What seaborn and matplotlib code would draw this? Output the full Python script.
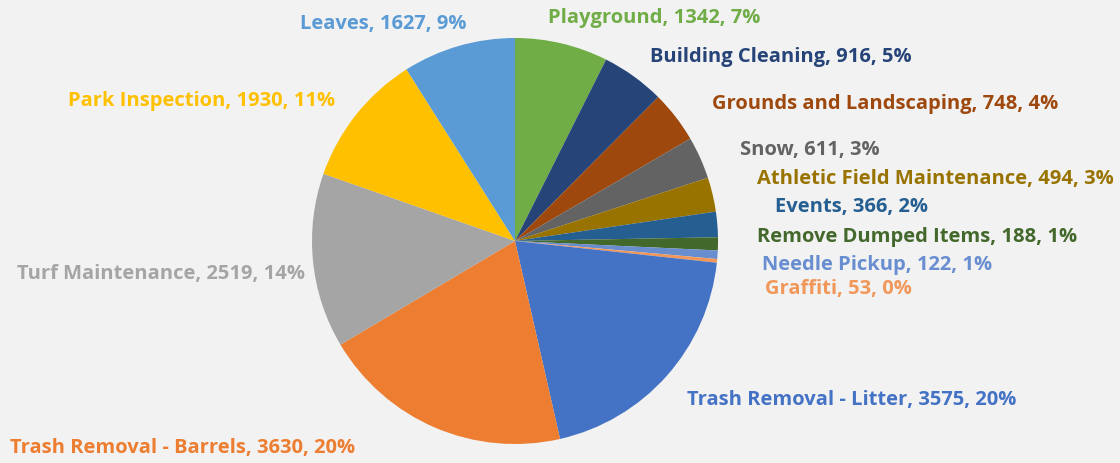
import matplotlib
matplotlib.use("Agg")
import matplotlib.pyplot as plt
import seaborn as sns

# ---- data ----
categories = [
    "Playground", "Building Cleaning", "Grounds and Landscaping", "Snow",
    "Athletic Field Maintenance", "Events", "Remove Dumped Items",
    "Needle Pickup", "Graffiti", "Trash Removal - Litter",
    "Trash Removal - Barrels", "Turf Maintenance", "Park Inspection", "Leaves",
]
counts = [1342, 916, 748, 611, 494, 366, 188, 122, 53, 3575, 3630, 2519, 1930, 1627]

# ---- styles / layout ----
colors = [
    "#70AD47", "#264478", "#9E480E", "#636363", "#997300", "#255E91",
    "#43682B", "#698ED0", "#F1975A", "#4472C4", "#ED7D31", "#A5A5A5",
    "#FFC000", "#5B9BD5",
]
# label anchor (left x, centre y) in pixel coordinates from top-left
label_pos = [
    (548, 18), (650, 57), (712, 104), (740, 150), (757, 179), (775, 207),
    (757, 237), (762, 265), (765, 289), (687, 400), (10, 448), (17, 274),
    (68, 101), (300, 24),
]

W, H = 1120, 463
sns.set_theme(style="white")
plt.rcParams["font.family"] = ["Open Sans", "DejaVu Sans"]

fig = plt.figure(figsize=(W / 100, H / 100), dpi=100, facecolor="#F2F2F2")
ax = fig.add_axes([0, 0, 1, 1])
ax.set_facecolor("#F2F2F2")

ax.pie(counts, colors=colors, startangle=90, counterclock=False,
       center=(515, H - 241), radius=203,
       wedgeprops=dict(linewidth=0), frame=True)
ax.set_xlim(0, W)
ax.set_ylim(0, H)
ax.axis("off")

total = sum(counts)
for cat, val, col, (px, py) in zip(categories, counts, colors, label_pos):
    pct = round(100 * val / total)
    ax.text(px, H - py, f"{cat}, {val}, {pct}%", color=col, fontsize=14.5,
            fontweight="bold", ha="left", va="center")

fig.savefig("out.png", dpi=100, facecolor=fig.get_facecolor())
